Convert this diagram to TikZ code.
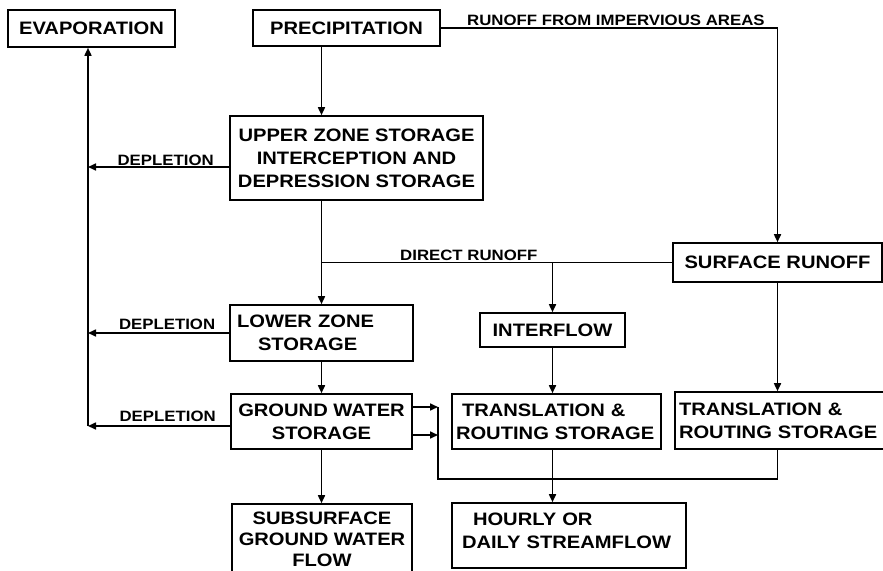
\documentclass[tikz,border=0pt]{standalone}
\usepackage{fontspec}
\newfontfamily\letterfont[FakeStretch=1.12]{Liberation Sans}
\usetikzlibrary{arrows.meta, positioning}

\begin{document}
\begin{tikzpicture}[
    x=1pt, y=-1pt,
    box/.style={rectangle, draw, line width=1.6pt, align=center,
                inner xsep=4pt, inner ysep=2pt,
                font=\letterfont\bfseries\fontsize{18}{23}\selectfont},
    flow/.style={-{Triangle[length=8pt,width=7pt]}, line width=1.6pt},
    link/.style={line width=1.6pt},
    tag/.style={font=\letterfont\bfseries\fontsize{15}{18}\selectfont, inner sep=1.5pt}
]
\useasboundingbox (0,0) rectangle (883,570);
\clip (0,0) rectangle (883,570);

\node[box, minimum width=167, minimum height=37] (evap) at (91.5,28.5) {EVAPORATION};
\node[box, minimum width=187, minimum height=36] (precip) at (346.5,28) {PRECIPITATION};
\node[box, minimum width=253, minimum height=84] (upper) at (356.5,158)
    {UPPER ZONE STORAGE\\INTERCEPTION AND\\DEPRESSION STORAGE};
\node[box, align=left, text width=175, minimum height=56] (lower) at (321.5,333)
    {\hspace*{3pt}LOWER ZONE\\\hspace*{24pt}STORAGE};
\node[box, minimum width=181, minimum height=55] (gw) at (321.5,421.5)
    {GROUND WATER\\STORAGE};
\node[box, minimum width=180, minimum height=70,
      font=\letterfont\bfseries\fontsize{18}{21}\selectfont] (sub) at (322,539)
    {SUBSURFACE\\GROUND WATER\\FLOW};
\node[box, minimum width=145, minimum height=34] (interflow) at (552.5,330) {INTERFLOW};
\node[box, minimum width=209, minimum height=39] (surface) at (777.5,262.5) {SURFACE RUNOFF};
\node[box, align=left, text width=201, minimum height=55] (tr1) at (556.5,421.5)
    {\hspace*{6pt}TRANSLATION \&\\ROUTING STORAGE};
\node[box, align=left, text width=202, minimum height=57] (tr2) at (780,420.5)
    {TRANSLATION \&\\ROUTING STORAGE};
\node[box, align=left, text width=226, minimum height=65, text depth=32pt] (hourly) at (569,535.5)
    {\hspace*{17pt}HOURLY OR\\\hspace*{6pt}DAILY STREAMFLOW};

% soil moisture chain
\draw[flow] (precip.south -| lower.north) -- (upper.north -| lower.north);
\draw[flow] (upper.south -| lower.north) -- (lower.north);
\draw[flow] (lower.south) -- (gw.north);
\draw[flow] (gw.south) -- (gw.south |- sub.north);

% runoff
\draw[flow] (precip.east) -| (surface.north)
    node[tag, above, pos=0.26] {RUNOFF FROM IMPERVIOUS AREAS};
\draw[link] (surface.west) -- (surface.west -| lower.north)
    node[tag, above, pos=0.58] {DIRECT RUNOFF};
\draw[flow] (interflow.north |- surface.west) -- (interflow.north);
\draw[flow] (interflow.south) -- (interflow.south |- tr1.north);
\draw[flow] (surface.south) -- (surface.south |- tr2.north);
\draw[flow] (interflow.south |- tr1.south) -- (interflow.south |- hourly.north);

% channel inflow
\coordinate (chan) at (438,479);
\draw[flow] ([yshift=14.5pt]gw.east) -- ([yshift=14.5pt]gw.east -| chan);
\draw[flow] ([yshift=-13.5pt]gw.east) -- ([yshift=-13.5pt]gw.east -| chan);
\draw[link] (surface.south |- tr2.south) |- (chan) -- ([yshift=14.5pt]gw.east -| chan);

% depletion to evaporation
\coordinate (trunk) at (88,426);
\draw[flow] (trunk) -- (trunk |- evap.south);
\draw[flow] ([yshift=-9pt]upper.west) -- ([yshift=-9pt]upper.west -| trunk)
    node[tag, above, inner sep=0.5pt, pos=0.45] {DEPLETION};
\draw[flow] (lower.west) -- (lower.west -| trunk)
    node[tag, above, inner sep=3pt, pos=0.44] {DEPLETION};
\draw[flow] ([yshift=-4.5pt]gw.west) -- ([yshift=-4.5pt]gw.west -| trunk)
    node[tag, above, inner sep=4pt, pos=0.44] {DEPLETION};

\end{tikzpicture}
\end{document}
